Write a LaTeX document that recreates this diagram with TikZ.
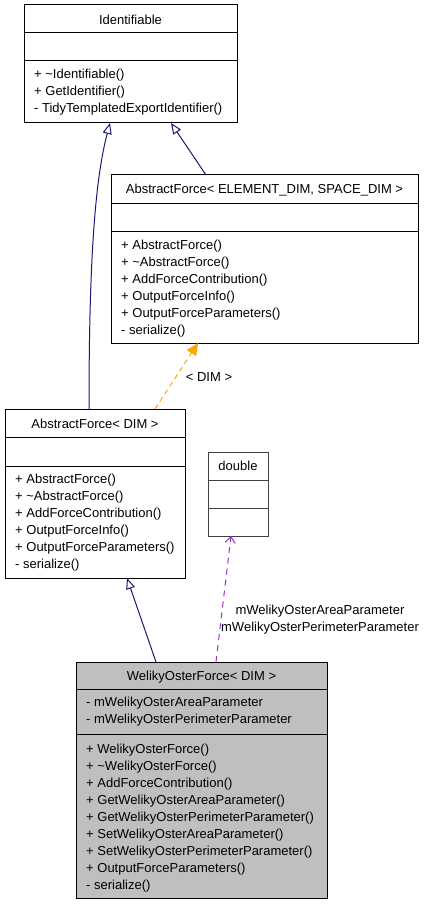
\documentclass[tikz,border=0pt]{standalone}
\usepackage{fontspec}
\setmainfont{Liberation Sans}
\usetikzlibrary{arrows.meta}
\definecolor{edgeblue}{HTML}{191970}
\definecolor{edgeorange}{HTML}{FFA500}
\definecolor{edgepurple}{HTML}{9A32CD}
\definecolor{boxgray}{HTML}{BFBFBF}
\begin{document}
\begin{tikzpicture}[x=1pt,y=-1pt,
  font=\fontsize{13}{15}\selectfont,
  classbox/.style={draw=black, line width=1pt, anchor=north west, inner sep=0pt, outer sep=0pt},
  divider/.style={draw=black, line width=1pt},
  ttl/.style={anchor=center, inner sep=0pt, yshift=-1pt},
  mem/.style={anchor=west, inner sep=0pt, yshift=-1pt},
  inherit/.style={draw=edgeblue, line width=1pt, -{Triangle[open, length=11pt, width=9pt, fill=white]}},
  tmpl/.style={draw=edgeorange, line width=1pt, dash pattern=on 5pt off 4pt, -{Triangle[length=12pt, width=11pt, fill=edgeorange]}},
  usage/.style={draw=edgepurple, line width=1pt, dash pattern=on 6pt off 5pt, -{Straight Barb[length=6pt, width=10pt]}},
  lbl/.style={anchor=center, inner sep=0pt}
]
\useasboundingbox (0,0) rectangle (424,904);

% Identifiable
\node[classbox, minimum width=213pt, minimum height=118pt] (idf) at (24,5) {};
\draw[divider] (idf.west |- 0,33) -- (idf.east |- 0,33);
\draw[divider] (idf.west |- 0,61) -- (idf.east |- 0,61);
\node[ttl] (idft) at (130.5,19) {Identifiable};
\node[mem] (idf1) at (34,74) {+ \textasciitilde Identifiable()};
\node[mem] (idf2) at (34,91) {+ GetIdentifier()};
\node[mem] (idf3) at (34,108) {- TidyTemplatedExportIdentifier()};

% AbstractForce< ELEMENT_DIM, SPACE_DIM >
\node[classbox, minimum width=307pt, minimum height=168pt] (afe) at (111,175) {};
\draw[divider] (afe.west |- 0,203) -- (afe.east |- 0,203);
\draw[divider] (afe.west |- 0,231) -- (afe.east |- 0,231);
\node[ttl] (afet) at (264.5,189) {AbstractForce< ELEMENT\_DIM, SPACE\_DIM >};
\node[mem] (afe1) at (121,245) {+ AbstractForce()};
\node[mem] (afe2) at (121,262) {+ \textasciitilde AbstractForce()};
\node[mem] (afe3) at (121,279) {+ AddForceContribution()};
\node[mem] (afe4) at (121,296) {+ OutputForceInfo()};
\node[mem] (afe5) at (121,313) {+ OutputForceParameters()};
\node[mem] (afe6) at (121,330) {- serialize()};

% AbstractForce< DIM >
\node[classbox, minimum width=180pt, minimum height=169pt] (afd) at (5,409) {};
\draw[divider] (afd.west |- 0,437) -- (afd.east |- 0,437);
\draw[divider] (afd.west |- 0,466) -- (afd.east |- 0,466);
\node[ttl] (afdt) at (95,423) {AbstractForce< DIM >};
\node[mem] (afd1) at (15,479) {+ AbstractForce()};
\node[mem] (afd2) at (15,496) {+ \textasciitilde AbstractForce()};
\node[mem] (afd3) at (15,513) {+ AddForceContribution()};
\node[mem] (afd4) at (15,530) {+ OutputForceInfo()};
\node[mem] (afd5) at (15,547) {+ OutputForceParameters()};
\node[mem] (afd6) at (15,564) {- serialize()};

% double
\node[classbox, draw=black!75, minimum width=60pt, minimum height=84pt] (dbl) at (208,452) {};
\draw[divider, draw=black!75] (dbl.west |- 0,480) -- (dbl.east |- 0,480);
\draw[divider, draw=black!75] (dbl.west |- 0,508) -- (dbl.east |- 0,508);
\node[ttl] (dblt) at (238,465) {double};

% WelikyOsterForce< DIM >
\node[classbox, fill=boxgray, minimum width=251pt, minimum height=236pt] (wof) at (76,662) {};
\draw[divider] (wof.west |- 0,689) -- (wof.east |- 0,689);
\draw[divider] (wof.west |- 0,734) -- (wof.east |- 0,734);
\node[ttl] (woft) at (201.5,676) {WelikyOsterForce< DIM >};
\node[mem] (wofa1) at (86,702) {- mWelikyOsterAreaParameter};
\node[mem] (wofa2) at (86,719) {- mWelikyOsterPerimeterParameter};
\node[mem] (wof1) at (86,749) {+ WelikyOsterForce()};
\node[mem] (wof2) at (86,766) {+ \textasciitilde WelikyOsterForce()};
\node[mem] (wof3) at (86,783) {+ AddForceContribution()};
\node[mem] (wof4) at (86,800) {+ GetWelikyOsterAreaParameter()};
\node[mem] (wof5) at (86,817) {+ GetWelikyOsterPerimeterParameter()};
\node[mem] (wof6) at (86,834) {+ SetWelikyOsterAreaParameter()};
\node[mem] (wof7) at (86,851) {+ SetWelikyOsterPerimeterParameter()};
\node[mem] (wof8) at (86,868) {+ OutputForceParameters()};
\node[mem] (wof9) at (86,885) {- serialize()};

% connector endpoints on box borders
\coordinate (idfA) at (110,123);
\coordinate (idfB) at (171,123);
\coordinate (afeTop) at (206,175);
\coordinate (afeBot) at (198,343);
\coordinate (afdTopL) at (89,409);
\coordinate (afdTopR) at (155,409);
\coordinate (afdBot) at (127,578);
\coordinate (dblBot) at (231,536);
\coordinate (wofTopL) at (156,662);
\coordinate (wofTopR) at (216,662);

% connectors
\draw[inherit] (afeTop) -- (idfB);
\draw[inherit] (afdTopL) .. controls (89,260) and (95,180) .. (idfA);
\draw[tmpl] (afdTopR) -- (afeBot);
\node[lbl] (tmplLbl) at (209,377) {< DIM >};
\draw[inherit] (wofTopL) -- (afdBot);
\draw[usage] (wofTopR) -- (dblBot);
\node[lbl] (useLbl1) at (320,611) {mWelikyOsterAreaParameter};
\node[lbl] (useLbl2) at (320,628) {mWelikyOsterPerimeterParameter};
\end{tikzpicture}
\end{document}
